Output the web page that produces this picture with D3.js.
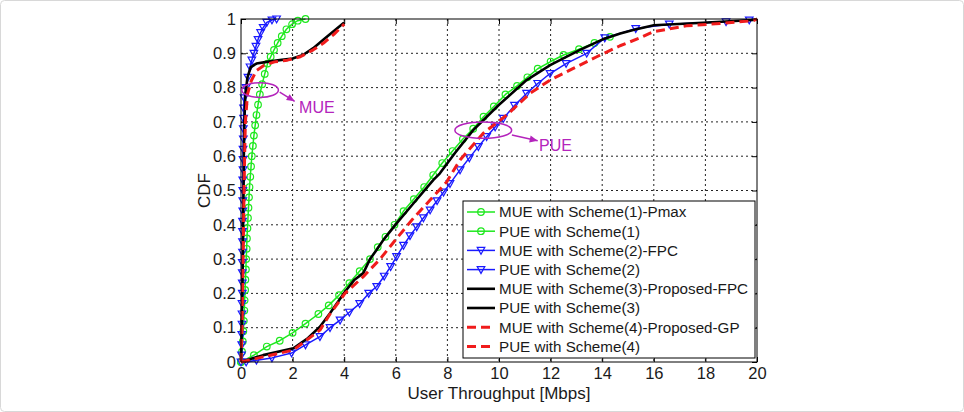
<!DOCTYPE html>
<html>
<head>
<meta charset="utf-8">
<script src="https://cdn.jsdelivr.net/npm/d3@7"></script>
<style>
  body { margin: 0; background: #fff; }
  svg { display: block; font-family: "Liberation Sans", Arial, sans-serif; }
</style>
</head>
<body>
<svg width="964" height="412"></svg>
<script>
// tick labels
var xTicks = [0, 2, 4, 6, 8, 10, 12, 14, 16, 18, 20];
var yTicks = [0, 0.1, 0.2, 0.3, 0.4, 0.5, 0.6, 0.7, 0.8, 0.9, 1];

// [throughput, cdf]
var mueScheme1 = [[0,0],[0.04,0.03],[0.07,0.06],[0.09,0.09],[0.11,0.12],[0.13,0.15],[0.14,0.18],[0.16,0.21],[0.17,0.24],[0.19,0.27],[0.2,0.3],[0.22,0.33],[0.23,0.36],[0.25,0.39],[0.27,0.42],[0.29,0.45],[0.31,0.48],[0.33,0.51],[0.36,0.54],[0.39,0.57],[0.42,0.6],[0.46,0.63],[0.5,0.66],[0.55,0.69],[0.6,0.72],[0.66,0.75],[0.73,0.78],[0.82,0.81],[0.92,0.84],[1.03,0.87],[1.15,0.89],[1.28,0.91],[1.42,0.93],[1.58,0.95],[1.76,0.97],[1.98,0.985],[2.2,0.995],[2.5,1.0]];
var pueScheme1 = [[0,0],[0.5,0.02],[1.0,0.045],[1.5,0.062],[2.0,0.085],[2.5,0.112],[3.0,0.14],[3.4,0.165],[3.8,0.195],[4.2,0.23],[4.6,0.265],[5.0,0.3],[5.3,0.335],[5.6,0.365],[5.95,0.4],[6.3,0.44],[6.7,0.475],[7.1,0.51],[7.45,0.545],[7.8,0.58],[8.2,0.615],[8.6,0.65],[9.0,0.68],[9.4,0.715],[9.8,0.745],[10.25,0.78],[10.7,0.805],[11.1,0.83],[11.5,0.855],[12.0,0.876],[12.5,0.895],[13.1,0.912],[13.7,0.93],[14.3,0.948]];
var mueScheme2 = [[0,0],[0.02,0.02],[0.03,0.05],[0.03,0.08],[0.04,0.11],[0.04,0.14],[0.04,0.17],[0.05,0.2],[0.05,0.23],[0.05,0.26],[0.05,0.29],[0.06,0.32],[0.06,0.35],[0.06,0.38],[0.06,0.41],[0.07,0.44],[0.07,0.47],[0.07,0.5],[0.07,0.53],[0.08,0.56],[0.08,0.59],[0.08,0.62],[0.09,0.65],[0.09,0.68],[0.1,0.71],[0.1,0.74],[0.12,0.77],[0.2,0.8],[0.27,0.83],[0.35,0.86],[0.42,0.88],[0.5,0.9],[0.58,0.92],[0.66,0.94],[0.76,0.96],[0.86,0.975],[1.0,0.99],[1.2,0.997],[1.38,1.0]];
var pueScheme2 = [[0.2,0],[0.6,0.005],[1.2,0.012],[1.96,0.026],[2.5,0.05],[3.06,0.074],[3.45,0.1],[3.84,0.122],[4.2,0.145],[4.6,0.17],[4.95,0.2],[5.26,0.22],[5.55,0.25],[5.8,0.278],[6.03,0.307],[6.3,0.34],[6.55,0.368],[6.81,0.394],[7.07,0.42],[7.33,0.443],[7.6,0.47],[7.85,0.495],[8.1,0.52],[8.49,0.56],[8.85,0.595],[9.2,0.628],[9.52,0.657],[9.85,0.685],[10.17,0.71],[10.6,0.748],[11.07,0.783],[11.5,0.812],[11.98,0.841],[12.6,0.87],[13.4,0.9],[14.1,0.945],[15.3,0.972],[16.6,0.985],[18.8,0.992],[19.7,0.997]];
var mueScheme3 = [[0,0],[0.03,0.1],[0.05,0.2],[0.07,0.3],[0.08,0.4],[0.1,0.5],[0.11,0.6],[0.13,0.7],[0.17,0.78],[0.25,0.83],[0.38,0.86],[0.6,0.87],[1.0,0.875],[1.5,0.88],[2.0,0.885],[2.4,0.895],[2.8,0.915],[3.2,0.94],[3.6,0.965],[4.0,0.99]];
var pueScheme3 = [[0,0],[0.86,0.02],[2.03,0.04],[2.6,0.07],[3.06,0.103],[3.45,0.142],[4.03,0.205],[4.4,0.24],[4.74,0.259],[5.0,0.3],[5.26,0.327],[5.52,0.356],[6.03,0.404],[6.68,0.462],[7.45,0.53],[7.71,0.55],[8.3,0.61],[9.0,0.676],[10.0,0.75],[11.07,0.822],[12.0,0.866],[13.14,0.91],[14.0,0.94],[14.7,0.958],[15.2,0.968],[16.0,0.982],[17.9,0.989],[19.85,0.997],[20,1.0]];
var mueScheme4 = [[0,0],[0.04,0.1],[0.06,0.2],[0.08,0.3],[0.1,0.4],[0.12,0.5],[0.14,0.6],[0.17,0.7],[0.25,0.78],[0.4,0.82],[0.6,0.85],[0.9,0.865],[1.3,0.875],[1.8,0.88],[2.3,0.89],[2.8,0.91],[3.2,0.93],[3.6,0.955],[4.0,0.985]];
var pueScheme4 = [[0,0],[0.86,0.015],[2.03,0.035],[3.06,0.093],[3.45,0.14],[4.03,0.2],[4.74,0.249],[5.39,0.3],[6.03,0.36],[6.68,0.419],[7.33,0.472],[7.97,0.525],[8.49,0.589],[9.39,0.667],[10.3,0.72],[11.2,0.783],[11.98,0.822],[12.88,0.856],[13.79,0.89],[14.69,0.922],[15.47,0.945],[15.98,0.963],[17.27,0.98],[18.57,0.987],[19.86,0.995],[20,1]];

var seriesNames = ["MUE with Scheme(1)-Pmax", "PUE with Scheme(1)", "MUE with Scheme(2)-FPC", "PUE with Scheme(2)",
	"MUE with Scheme(3)-Proposed-FPC", "PUE with Scheme(3)", "MUE with Scheme(4)-Proposed-GP", "PUE with Scheme(4)"];
var seriesData = [mueScheme1, pueScheme1, mueScheme2, pueScheme2, mueScheme3, pueScheme3, mueScheme4, pueScheme4];

var svg = d3.select("svg");
var margin = {top: 19, right: 207, bottom: 50, left: 241},
	width = +svg.attr("width") - margin.left - margin.right,
	height = +svg.attr("height") - margin.top - margin.bottom;

// faint frame round the whole figure
svg.append("rect").attr("x", 0.5).attr("y", 0.5).attr("width", 963).attr("height", 411)
	.attr("rx", 4).attr("fill", "none").attr("stroke", "#d8d8d8");

var g = svg.append("g").attr("transform", "translate(" + margin.left + "," + margin.top + ")");

var x = d3.scaleLinear().domain([0, 20]).range([0, width]);
var y = d3.scaleLinear().domain([0, 1]).range([height, 0]);

// style per series
var styles = [
	{color: "#1ee81e", width: 1.5, dash: null, marker: "circle"},
	{color: "#1ee81e", width: 1.5, dash: null, marker: "circle"},
	{color: "#1a1aff", width: 1.5, dash: null, marker: "tri"},
	{color: "#1a1aff", width: 1.5, dash: null, marker: "tri"},
	{color: "#000", width: 2.6, dash: null, marker: null},
	{color: "#000", width: 2.6, dash: null, marker: null},
	{color: "#f01c1c", width: 3, dash: "9,5", marker: null},
	{color: "#f01c1c", width: 3, dash: "9,5", marker: null}
];

// grid
g.append("g").selectAll("line").data(xTicks.slice(1, -1)).enter().append("line")
	.attr("x1", function(d) { return x(d); }).attr("x2", function(d) { return x(d); })
	.attr("y1", 0).attr("y2", height)
	.attr("stroke", "#222").attr("stroke-width", 1).attr("stroke-dasharray", "2,3");
g.append("g").selectAll("line").data(yTicks.slice(1, -1)).enter().append("line")
	.attr("y1", function(d) { return y(d); }).attr("y2", function(d) { return y(d); })
	.attr("x1", 0).attr("x2", width)
	.attr("stroke", "#222").attr("stroke-width", 1).attr("stroke-dasharray", "2,3");

// axes, MATLAB style: ticks pointing inward
g.append("g").attr("transform", "translate(0," + height + ")")
	.call(d3.axisBottom(x).tickValues(xTicks).tickSizeInner(-5).tickSizeOuter(0).tickPadding(5).tickFormat(d3.format("d")));
g.append("g")
	.call(d3.axisLeft(y).tickValues(yTicks).tickSizeInner(-5).tickSizeOuter(0).tickPadding(5).tickFormat(function(d) { return d === 0 || d === 1 ? d : d3.format(".1f")(d); }));
g.append("g")
	.call(d3.axisTop(x).tickValues(xTicks).tickSizeInner(-5).tickSizeOuter(0).tickFormat(""));
g.append("g").attr("transform", "translate(" + width + ",0)")
	.call(d3.axisRight(y).tickValues(yTicks).tickSizeInner(-5).tickSizeOuter(0).tickFormat(""));
g.selectAll(".domain").remove();
g.selectAll(".tick line").attr("stroke", "#000");
g.selectAll(".tick text").attr("font-size", 16.5).attr("fill", "#1a1a1a")
	.attr("font-family", "'Liberation Sans', Arial, sans-serif");

// curves
var line = d3.line().x(function(d) { return x(d[0]); }).y(function(d) { return y(d[1]); });
var plot = g.append("g");

function drawSeries(i) {
	var s = styles[i];
	plot.append("path").datum(seriesData[i])
		.attr("d", line).attr("fill", "none")
		.attr("stroke", s.color).attr("stroke-width", s.width)
		.attr("stroke-dasharray", s.dash).attr("stroke-linejoin", "round");
	if (s.marker == "circle") {
		plot.append("g").selectAll("circle").data(seriesData[i]).enter().append("circle")
			.attr("cx", function(d) { return x(d[0]); }).attr("cy", function(d) { return y(d[1]); })
			.attr("r", 3.3).attr("fill", "none").attr("stroke", s.color).attr("stroke-width", 1.2);
	} else if (s.marker == "tri") {
		plot.append("g").selectAll("path").data(seriesData[i]).enter().append("path")
			.attr("d", "M-3.8,-3 L3.8,-3 L0,3.8 Z")
			.attr("transform", function(d) { return "translate(" + x(d[0]) + "," + y(d[1]) + ")"; })
			.attr("fill", "none").attr("stroke", s.color).attr("stroke-width", 1.2);
	}
}
[0, 1, 2, 3, 4, 5, 6, 7].forEach(drawSeries);

// box
g.append("rect").attr("width", width).attr("height", height)
	.attr("fill", "none").attr("stroke", "#000").attr("stroke-width", 1);

// annotations
var annColor = "#b424bc";
function annotate(cx, cy, rx, ry, arrowFrom, arrowTo, label, labelPos) {
	g.append("ellipse").attr("cx", x(cx)).attr("cy", y(cy))
		.attr("rx", x(rx) - x(0)).attr("ry", y(0) - y(ry))
		.attr("fill", "none").attr("stroke", annColor).attr("stroke-width", 1.5);
	var x1 = x(arrowFrom[0]), y1 = y(arrowFrom[1]), x2 = x(arrowTo[0]), y2 = y(arrowTo[1]);
	g.append("line").attr("x1", x1).attr("y1", y1).attr("x2", x2).attr("y2", y2)
		.attr("stroke", annColor).attr("stroke-width", 1.5);
	var a = Math.atan2(y2 - y1, x2 - x1);
	var head = [[x2, y2],
		[x2 - 8 * Math.cos(a) + 3.5 * Math.sin(a), y2 - 8 * Math.sin(a) - 3.5 * Math.cos(a)],
		[x2 - 8 * Math.cos(a) - 3.5 * Math.sin(a), y2 - 8 * Math.sin(a) + 3.5 * Math.cos(a)]];
	g.append("path").attr("d", "M" + head.join("L") + "Z").attr("fill", annColor);
	g.append("text").attr("x", x(labelPos[0])).attr("y", y(labelPos[1]))
		.attr("font-size", 16).attr("fill", annColor).text(label);
}
annotate(0.74, 0.793, 0.71, 0.0215, [1.5, 0.787], [2.08, 0.76], "MUE", [2.25, 0.725]);
annotate(9.39, 0.676, 1.1, 0.024, [10.5, 0.662], [11.5, 0.645], "PUE", [11.55, 0.615]);

// axis titles
svg.append("text").attr("x", margin.left + width / 2).attr("y", 399)
	.attr("text-anchor", "middle").attr("font-size", 17).attr("fill", "#1a1a1a")
	.text("User Throughput [Mbps]");
svg.append("text").attr("transform", "translate(210," + (margin.top + height / 2) + ") rotate(-90)")
	.attr("text-anchor", "middle").attr("font-size", 17).attr("fill", "#1a1a1a")
	.text("CDF");

// legend
var legend = svg.append("g").attr("transform", "translate(463,201)");
legend.append("rect").attr("width", 292).attr("height", 157)
	.attr("fill", "#fff").attr("stroke", "#000").attr("stroke-width", 1);
var items = legend.selectAll("g.item").data(seriesNames).enter().append("g")
	.attr("class", "item")
	.attr("transform", function(d, i) { return "translate(0," + (11 + i * 19.2) + ")"; });
items.append("line").attr("x1", 4).attr("x2", 32).attr("y1", 0).attr("y2", 0)
	.attr("stroke", function(d, i) { return styles[i].color; })
	.attr("stroke-width", function(d, i) { return styles[i].width; })
	.attr("stroke-dasharray", function(d, i) { return styles[i].dash; });
items.filter(function(d, i) { return styles[i].marker == "circle"; }).append("circle")
	.attr("cx", 18).attr("r", 3.3).attr("fill", "none").attr("stroke", "#1ee81e").attr("stroke-width", 1.2);
items.filter(function(d, i) { return styles[i].marker == "tri"; }).append("path")
	.attr("d", "M14.2,-3 L21.8,-3 L18,3.8 Z").attr("fill", "none").attr("stroke", "#1a1aff").attr("stroke-width", 1.2);
items.append("text").attr("x", 36).attr("dy", "0.36em")
	.attr("font-size", 15.2).attr("fill", "#1a1a1a").text(function(d) { return d; });
</script>
</body>
</html>
